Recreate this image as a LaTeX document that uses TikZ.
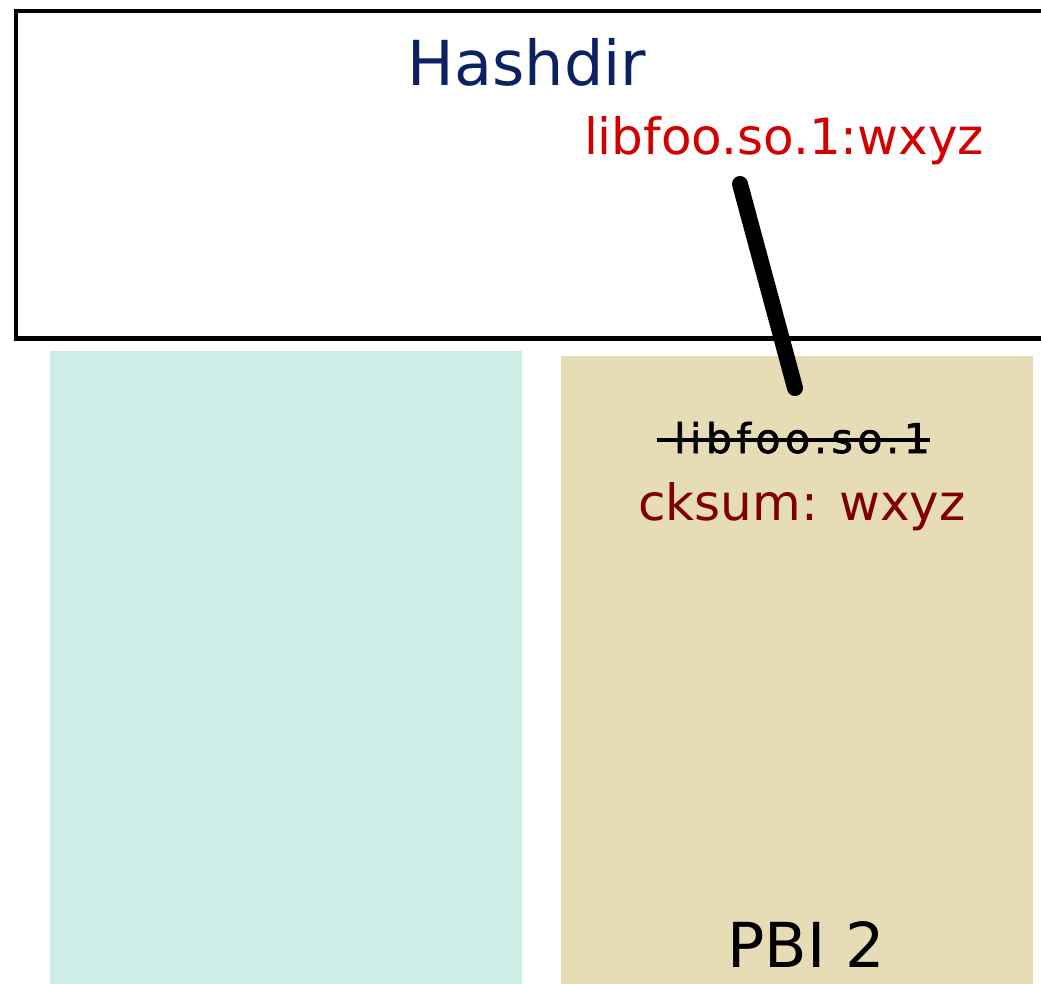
\documentclass[tikz,border=0pt]{standalone}
\usepackage{fontspec}
\setmainfont{DejaVu Sans}
\newfontfamily\oldfont[LetterSpace=11,FakeBold=1.5]{DejaVu Sans}
\definecolor{hashblue}{HTML}{0B2161}
\definecolor{libred}{HTML}{D40000}
\definecolor{ckred}{HTML}{800000}
\definecolor{pbione}{HTML}{CFEDE7}
\definecolor{pbitwo}{HTML}{E6DDB7}
\begin{document}
\begin{tikzpicture}[x=1pt,y=-1pt,
  txt/.style={inner sep=0pt,anchor=base},
  bigfont/.style={font=\fontsize{62}{70}\selectfont},
  midfont/.style={font=\fontsize{50}{58}\selectfont}]
\useasboundingbox (0,0) rectangle (1041,984);
\fill[pbione] (50,351) rectangle (522,990);
\fill[pbitwo] (561,356) rectangle (1033,990);
\draw[line width=4.5pt] (16,11) rectangle (1070,338.5);
\node[txt,bigfont,text=hashblue] (hash) at (527,86) {Hashdir};
\node[txt,midfont,text=libred] (lib) at (784,155) {libfoo.so.1:wxyz};
\node[txt,font=\oldfont\fontsize{41}{48}\selectfont] (old) at (802,453) {libfoo.so.1};
\draw[line width=3.5pt] ([xshift=-17pt,yshift=13pt]old.base west) -- ([xshift=0pt,yshift=13pt]old.base east);
\node[txt,midfont,text=ckred] (ck) at (802,520) {cksum: wxyz};
\node[txt,bigfont] (pbi) at (806,967) {PBI 2};
\coordinate (a) at (740,184);
\coordinate (b) at (795,388);
\draw[line width=16pt,line cap=round] (a) -- (b);
\end{tikzpicture}
\end{document}
